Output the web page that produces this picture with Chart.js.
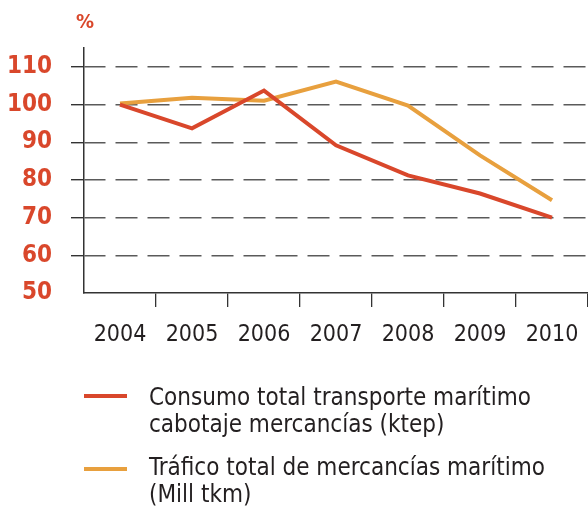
<!DOCTYPE html>
<html>
<head>
<meta charset="utf-8">
<script src="https://cdn.jsdelivr.net/npm/chart.js@4/dist/chart.umd.min.js"></script>
<style>
  html, body { margin: 0; padding: 0; background: #fff; }
  #wrap { position: relative; width: 588px; height: 506px; overflow: hidden; }
  canvas { position: absolute; left: 0; top: 0; }
  .unit { position: absolute; left: 76px; top: 9px; font: bold 20px 'DejaVu Sans Condensed', 'DejaVu Sans', sans-serif; color: #d9472b; line-height: 24px; }
  .sw { position: absolute; left: 84px; width: 43px; height: 4px; }
  .lt { position: absolute; left: 149px; font: 24px 'DejaVu Sans Condensed', 'DejaVu Sans', sans-serif; color: #231f20; line-height: 27px; white-space: nowrap; }
</style>
</head>
<body>
<div id="wrap">
  <canvas id="c" width="588" height="506"></canvas>
  <div class="unit">%</div>
  <div class="sw" id="sw0" style="top:394px"></div>
  <div class="lt" id="lt0" style="top:384px"></div>
  <div class="sw" id="sw1" style="top:467px"></div>
  <div class="lt" id="lt1" style="top:454px"></div>
</div>
<script>
const years = ['2004', '2005', '2006', '2007', '2008', '2009', '2010'];
const consumo = [100, 93.7, 103.7, 89.2, 81.2, 76.4, 70.0];
const trafico = [100.3, 101.8, 101.0, 106.1, 99.7, 86.5, 74.6];
const seriesNames = [
  ['Consumo total transporte marítimo', 'cabotaje mercancías (ktep)'],
  ['Tráfico total de mercancías marítimo', '(Mill tkm)']
];
const yTicks = [50, 60, 70, 80, 90, 100, 110];
const colors = ['#d9472b', '#e8a03e'];

seriesNames.forEach((lines, i) => {
  document.getElementById('lt' + i).innerHTML = lines.join('<br>');
  document.getElementById('sw' + i).style.background = colors[i];
});

const FONT = "'DejaVu Sans Condensed', 'DejaVu Sans', sans-serif";

new Chart(document.getElementById('c'), {
  type: 'line',
  data: {
    labels: years,
    datasets: [
      { label: seriesNames[0].join(' '), data: consumo, borderColor: colors[0], borderWidth: 4, pointRadius: 0, tension: 0, fill: false },
      { label: seriesNames[1].join(' '), data: trafico, borderColor: colors[1], borderWidth: 4, pointRadius: 0, tension: 0, fill: false }
    ]
  },
  options: {
    responsive: false,
    animation: false,
    layout: { padding: { top: 48, left: 0, right: 0, bottom: 0 } },
    plugins: { legend: { display: false }, tooltip: { enabled: false } },
    scales: {
      x: {
        offset: true,
        grid: {
          offset: true,
          drawOnChartArea: false,
          drawTicks: true,
          tickLength: 14,
          color: (ctx) => ctx.index === 0 ? 'rgba(0,0,0,0)' : '#333',
          lineWidth: 1.3
        },
        border: { display: true, color: '#333', width: 1.5 },
        ticks: { color: '#231f20', font: { family: FONT, size: 23 }, padding: 14, maxRotation: 0, autoSkip: false },
        afterFit: (s) => { s.height = 506 - 293; s.paddingLeft = 0; s.paddingRight = 0; }
      },
      y: {
        min: 50,
        max: 115,
        afterBuildTicks: (s) => { s.ticks = yTicks.map(v => ({ value: v })); },
        grid: {
          color: (ctx) => (ctx.tick && ctx.tick.value === 50) ? 'rgba(0,0,0,0)' : '#5a5a5a',
          lineWidth: 1.4,
          tickLength: 13,
          drawTicks: true,
          tickBorderDash: [],
          tickColor: (ctx) => (ctx.tick && ctx.tick.value === 50) ? 'rgba(0,0,0,0)' : '#333'
        },
        border: { display: true, color: '#333', width: 1.5, dash: [22, 10], dashOffset: 1 },
        ticks: { color: '#d9472b', font: { family: FONT, size: 24, weight: 'bold' }, padding: 19 },
        afterFit: (s) => { s.width = 84; }
      }
    }
  }
});
</script>
</body>
</html>
